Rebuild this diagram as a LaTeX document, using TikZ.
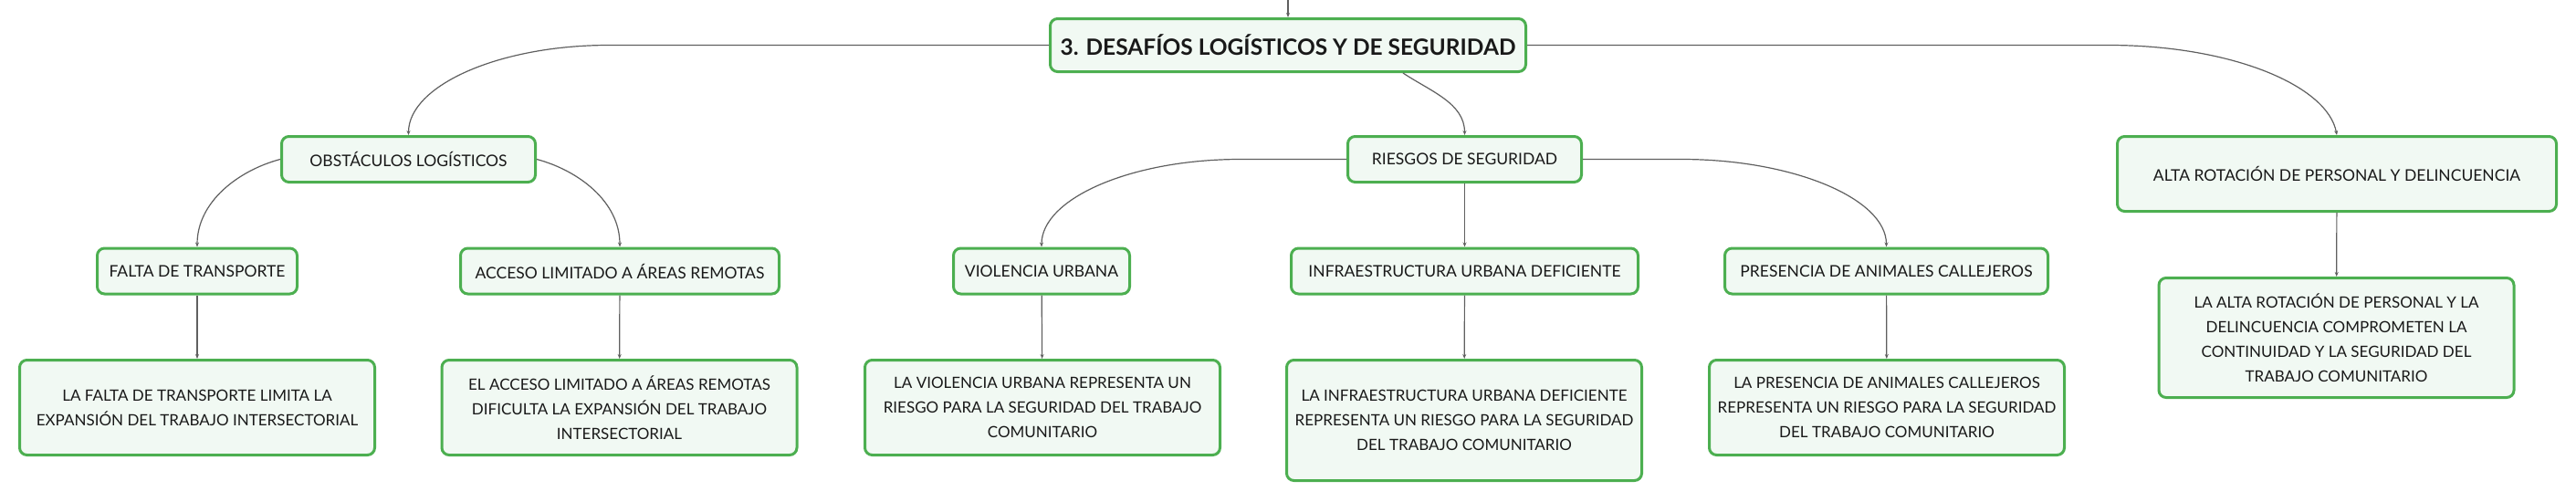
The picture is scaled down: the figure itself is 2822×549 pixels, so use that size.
\documentclass[tikz,border=0pt]{standalone}
\usepackage{fontspec}
\setmainfont{Lato}
\usetikzlibrary{arrows.meta}

\definecolor{boxgreen}{RGB}{76,175,80}
\definecolor{boxfill}{RGB}{241,249,243}
\definecolor{linkgray}{RGB}{95,95,95}

\begin{document}
\begin{tikzpicture}[x=1pt, y=-1pt,
          link/.style={-{Stealth[length=5pt,width=4pt]}, draw=linkgray, line width=1.2pt},
          basebox/.style={rectangle, draw=boxgreen, fill=boxfill, line width=3pt,
            rounded corners=8pt, inner sep=0pt, align=center, text=black!90},
          topbox/.style={basebox, minimum width=521pt, minimum height=58pt,
            font=\bfseries\fontsize{24.5}{29}\selectfont},
          midbox/.style={basebox, minimum height=50pt, font=\fontsize{17.5}{22}\selectfont},
          leafbox/.style={basebox, minimum width=389pt, minimum height=104pt,
            font=\fontsize{17}{27}\selectfont}]

        \useasboundingbox (0,0) rectangle (2822,549);

        \node[topbox] (root) at (1411,49.5) {3. DESAFÍOS LOGÍSTICOS Y DE SEGURIDAD};
        \coordinate (up) at (1411,0);
        \draw[link] (up) -- (root);

        \node[midbox, minimum width=278pt] (obst)    at (447.5,174.5)  {OBSTÁCULOS LOGÍSTICOS};
        \node[midbox, minimum width=256pt] (riesgos) at (1604.5,174.5) {RIESGOS DE SEGURIDAD};
        \node[midbox, minimum width=481pt, minimum height=82pt] (alta) at (2560,190.5)
             {ALTA ROTACIÓN DE PERSONAL Y DELINCUENCIA};

        \draw[link] (root.west) -- ++(-482,0) .. controls +(-121,0) and +(0,-54) .. (obst.north);
        \draw[link] ([xshift=126pt]root.south) .. controls +(30,20) and +(0,-35) .. (riesgos.north);
        \draw[link] (root.east) -- ++(637,0) .. controls +(135,0) and +(-10,-54) .. (alta.north);

        \node[midbox, minimum width=219pt] (falta)     at (216,297)    {FALTA DE TRANSPORTE};
        \node[midbox, minimum width=349pt] (acceso)    at (679,297)    {ACCESO LIMITADO A ÁREAS REMOTAS};
        \node[midbox, minimum width=193pt] (violencia) at (1141,297)   {VIOLENCIA URBANA};
        \node[midbox, minimum width=380pt] (infra)     at (1604.5,297) {INFRAESTRUCTURA URBANA DEFICIENTE};
        \node[midbox, minimum width=354pt] (presencia) at (2066.5,297) {PRESENCIA DE ANIMALES CALLEJEROS};

        \draw[link] (obst.west) .. controls +(-45,12) and +(0,-50) .. (falta.north);
        \draw[link] (obst.east) .. controls +(45,12) and +(0,-50) .. (acceso.north);
        \draw[link] (riesgos.west) -- ++(-116,0) .. controls +(-120,0) and +(0,-53) .. (violencia.north);
        \draw[link] (riesgos) -- (infra);
        \draw[link] (riesgos.east) -- ++(108,0) .. controls +(122,0) and +(0,-53) .. (presencia.north);

        \node[leafbox] (faltaleaf)     at (216,446.5)
             {LA FALTA DE TRANSPORTE LIMITA LA\\EXPANSIÓN DEL TRABAJO INTERSECTORIAL};
        \node[leafbox] (accesoleaf)    at (678.5,446.5)
             {EL ACCESO LIMITADO A ÁREAS REMOTAS\\DIFICULTA LA EXPANSIÓN DEL TRABAJO\\INTERSECTORIAL};
        \node[leafbox] (violencialeaf) at (1142,446.5)
             {LA VIOLENCIA URBANA REPRESENTA UN\\RIESGO PARA LA SEGURIDAD DEL TRABAJO\\COMUNITARIO};
        \node[leafbox, minimum height=132pt] (infraleaf) at (1604,460.5)
             {LA INFRAESTRUCTURA URBANA DEFICIENTE\\REPRESENTA UN RIESGO PARA LA SEGURIDAD\\DEL TRABAJO COMUNITARIO};
        \node[leafbox] (presencialeaf) at (2067,446.5)
             {LA PRESENCIA DE ANIMALES CALLEJEROS\\REPRESENTA UN RIESGO PARA LA SEGURIDAD\\DEL TRABAJO COMUNITARIO};
        \node[leafbox, minimum height=131pt] (altaleaf) at (2559.5,370)
             {LA ALTA ROTACIÓN DE PERSONAL Y LA\\DELINCUENCIA COMPROMETEN LA\\CONTINUIDAD Y LA SEGURIDAD DEL\\TRABAJO COMUNITARIO};

        \draw[link] (falta)     -- (faltaleaf);
        \draw[link] (acceso)    -- (accesoleaf);
        \draw[link] (violencia) -- (violencialeaf);
        \draw[link] (infra)     -- (infraleaf);
        \draw[link] (presencia) -- (presencialeaf);
        \draw[link] (alta)      -- (altaleaf);

      \end{tikzpicture}
\end{document}
